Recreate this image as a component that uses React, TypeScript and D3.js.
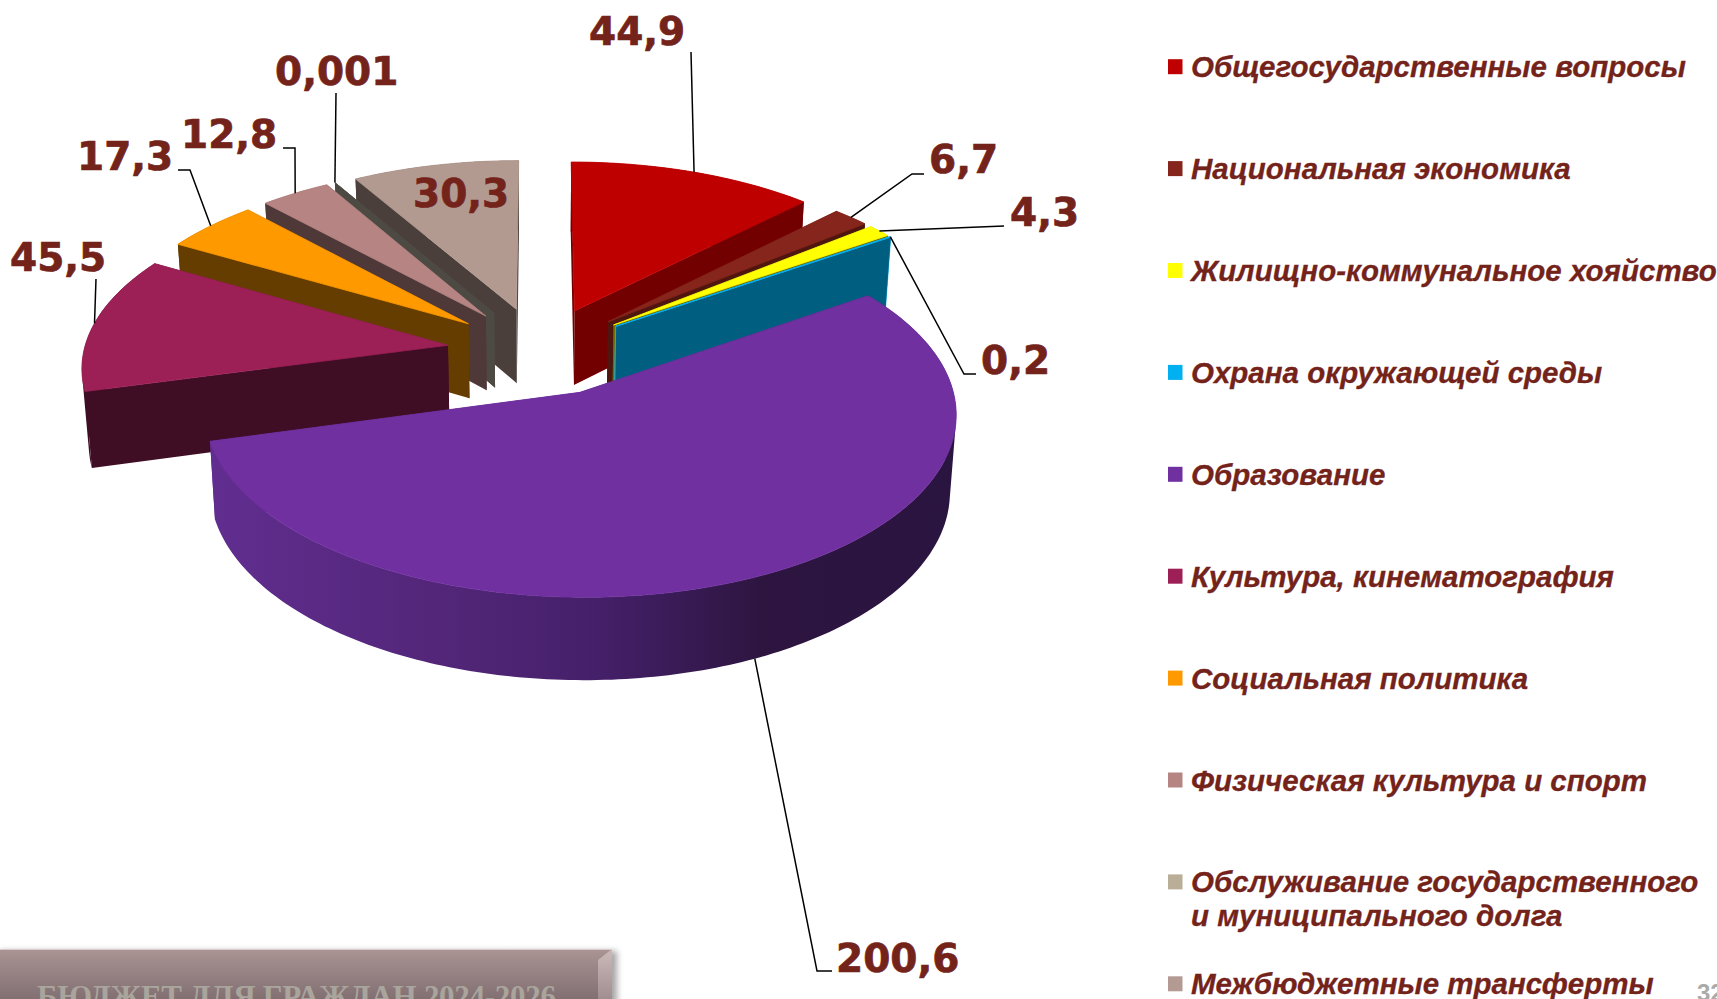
import React from "react";
import * as d3 from "d3";

// ---- data ----
const categories = [
  "Общегосударственные вопросы",
  "Национальная экономика",
  "Жилищно-коммунальное хояйство",
  "Охрана окружающей среды",
  "Образование",
  "Культура, кинематография",
  "Социальная политика",
  "Физическая культура и спорт",
  "Обслуживание государственного\nи муниципального долга",
  "Межбюджетные трансферты",
];
const values = [44.9, 6.7, 4.3, 0.2, 200.6, 45.5, 17.3, 12.8, 0.001, 30.3];
const valueLabels = ["44,9", "6,7", "4,3", "0,2", "200,6", "45,5", "17,3", "12,8", "0,001", "30,3"];

// ---- styles ----
const topColors = ["#BF0000", "#86251B", "#FFFF00", "#00B0F0", "#7030A0", "#9C2056", "#FF9900", "#B68583", "#4F4C45", "#B29A90"];
const wallColors = ["#730000", "#4F1610", "#6E6E00", "#005E80", "url(#purpleWall)", "#3F0D24", "#663D00", "#4E3838", "#4D4A44", "#4A3F3B"];
const wallEdges = ["none", "none", "none", "#21B5E8", "none", "none", "none", "none", "none", "none"];
const legendColors = ["#BF0000", "#86251B", "#FFFF00", "#00B0F0", "#7030A0", "#9C2056", "#FF9900", "#B68583", "#BBAE98", "#B39B94"];
const INK = "#74231B";

// label layout: text x, baseline y, then leader elbow points (label side first)
const labelPos: [number, number][] = [[589, 45], [929, 173], [1010, 226], [981, 374], [836, 972], [10, 271], [77, 170], [181, 148], [275, 85], [413, 207]];
const leaderStart: ([number, number][] | null)[] = [
  [[691, 52]],
  [[924, 174], [912, 174]],
  [[1004, 226]],
  [[976, 374], [964, 374]],
  [[832, 971], [817, 971]],
  [[96, 279]],
  [[178, 170], [190, 170]],
  [[283, 148], [295, 148]],
  [[336, 93]],
  null,
];

// ---- projection of the exploded pie onto the screen ----
const CX = 540, CY = 351, XS = 364, YS = 173.2, PERSP = 0.108, EXPLODE = 0.256;
const project = (u: number, v: number): [number, number] => {
  const w = 1 - PERSP * v;
  return [CX + (XS * u) / w, CY + (YS * v) / w];
};
const drop = ([x, y]: [number, number]): [number, number] => [CX + (x - CX) * 0.985, y + 74 + 0.031 * (y - 310)];

const arcs = d3.pie<number>().sort(null).startAngle(0).endAngle(2 * Math.PI)(values);
const line = d3.line();
const STEP = Math.PI / 180;

// every quad gets the same winding so that one path is their seamless union
const quad = (p: [number, number], q: [number, number]) => {
  const pts: [number, number][] = [p, q, drop(q), drop(p)];
  if (d3.polygonArea(pts) < 0) pts.reverse();
  return line(pts)! + "Z";
};

function Slice({ i }: { i: number }) {
  const a = arcs[i];
  const mid = (a.startAngle + a.endAngle) / 2;
  const ou = EXPLODE * Math.sin(mid), ov = -EXPLODE * Math.cos(mid);
  const apex = project(ou, ov);
  const n = Math.max(1, Math.ceil((a.endAngle - a.startAngle) / STEP));
  const rim = d3.range(n + 1).map((k) => {
    const t = a.startAngle + ((a.endAngle - a.startAngle) * k) / n;
    return project(ou + Math.sin(t), ov - Math.cos(t));
  });
  const wall = {
    fill: wallColors[i],
    stroke: wallEdges[i] === "none" ? "none" : wallEdges[i],
    strokeWidth: 0.8,
    strokeLinejoin: "round" as const,
  };
  const first = rim[0], last = rim[n];
  return (
    <g>
      <path d={quad(apex, first)} {...wall} />
      <path d={quad(apex, last)} {...wall} />
      <path d={d3.pairs(rim).map(([p, q]) => quad(p, q)).join("")} fill={wallColors[i]} />
      <path d={line([apex, ...rim])! + "Z"} fill={topColors[i]} stroke={topColors[i]} strokeWidth={0.8} strokeLinejoin="round" />
    </g>
  );
}

function Leader({ i }: { i: number }) {
  const start = leaderStart[i];
  if (!start) return null;
  const a = arcs[i];
  const mid = (a.startAngle + a.endAngle) / 2;
  const ou = EXPLODE * Math.sin(mid), ov = -EXPLODE * Math.cos(mid);
  let end = project(ou + Math.sin(mid), ov - Math.cos(mid));
  if (values[i] === d3.max(values)) end = drop(end);
  return <path d={line([...start, end])!} fill="none" stroke="#000" strokeWidth={1.5} />;
}

// back-to-front: right-hand slices, then left-hand slices, the largest last
const paintOrder = [0, 1, 2, 3, 9, 8, 7, 6, 5, 4];

export default function App() {
  return (
    <svg
      width={1717}
      height={999}
      viewBox="0 0 1717 999"
      style={{ position: "absolute", left: 0, top: 0, display: "block", background: "#fff" }}
    >
      <defs>
        <linearGradient id="purpleWall" gradientUnits="userSpaceOnUse" x1={209} x2={956} y1={0} y2={0}>
          <stop offset="0" stopColor="#612E90" />
          <stop offset="0.3" stopColor="#532679" />
          <stop offset="0.52" stopColor="#45206A" />
          <stop offset="0.74" stopColor="#2D1540" />
          <stop offset="1" stopColor="#2A1440" />
        </linearGradient>
        <linearGradient id="bar" x1={0} x2={0} y1={0} y2={1}>
          <stop offset="0" stopColor="#AA9494" />
          <stop offset="1" stopColor="#7A686B" />
        </linearGradient>
        <linearGradient id="barEdge" x1={0} x2={0} y1={0} y2={1}>
          <stop offset="0" stopColor="#CDBABB" />
          <stop offset="1" stopColor="#A08E90" />
        </linearGradient>
        <filter id="barShadow" x="-5%" y="-20%" width="110%" height="140%">
          <feGaussianBlur stdDeviation="3" />
        </filter>
      </defs>

      {paintOrder.map((i) => (
        <Slice key={i} i={i} />
      ))}
      {values.map((_, i) => (
        <Leader key={i} i={i} />
      ))}
      {valueLabels.map((t, i) => (
        <text
          key={i}
          x={labelPos[i][0]}
          y={labelPos[i][1]}
          fontFamily="DejaVu Sans"
          fontWeight="bold"
          fontSize={39}
          fill={INK}
          stroke={INK}
          strokeWidth={0.7}
        >
          {t}
        </text>
      ))}

      {categories.map((c, i) => {
        const base = 77.2 + 101.9 * i;
        return (
          <g key={i}>
            <rect x={1168} y={base - 18} width={14.5} height={15} fill={legendColors[i]} />
            {c.split("\n").map((ln, k) => (
              <text
                key={k}
                x={1191}
                y={base + 34 * k}
                fontFamily="Liberation Sans"
                fontStyle="italic"
                fontWeight="bold"
                fontSize={29.5}
                fill={INK}
                stroke={INK}
                strokeWidth={0.3}
              >
                {ln}
              </text>
            ))}
          </g>
        );
      })}

      <rect x={0} y={951} width={617} height={60} fill="#000" opacity={0.35} filter="url(#barShadow)" />
      <rect x={0} y={949} width={612} height={60} fill="url(#bar)" />
      <path d="M598 960 L612 949 L612 999 L598 999 Z" fill="url(#barEdge)" />
      <line x1={0} x2={612} y1={949.5} y2={949.5} stroke="#D8CCCC" />
      <text
        x={37}
        y={1007}
        textLength={519}
        lengthAdjust="spacing"
        fontFamily="Liberation Serif"
        fontWeight="bold"
        fontSize={31}
        fill="#A9A59C"
      >
        БЮДЖЕТ ДЛЯ ГРАЖДАН 2024-2026
      </text>
      <text x={1697} y={1001} fontFamily="Liberation Sans" fontWeight="bold" fontSize={24} fill="#AAAAAA">
        32
      </text>
    </svg>
  );
}
